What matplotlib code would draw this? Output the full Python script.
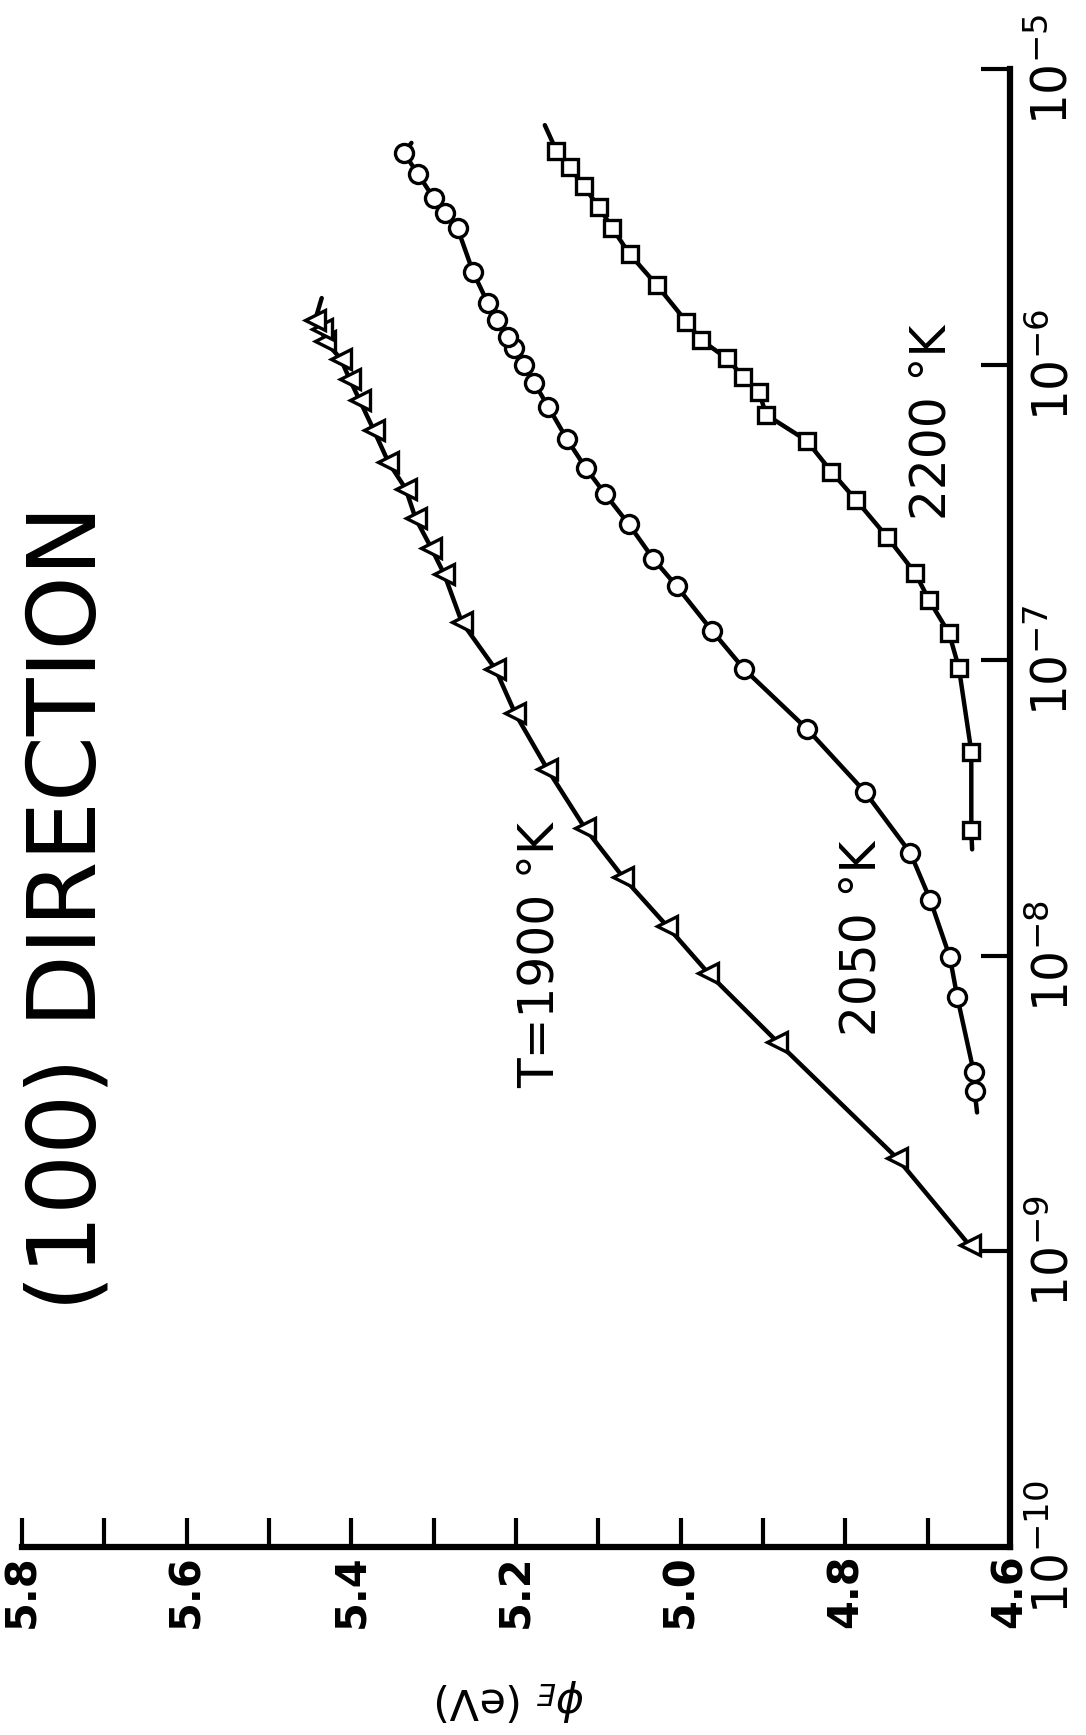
import numpy as np
import matplotlib
matplotlib.use("Agg")
import matplotlib.pyplot as plt
from matplotlib.ticker import NullLocator

# Effective work function phi_E (eV) versus oxygen pressure (log10 of torr)
# for the (100) direction at three temperatures.
phi_1900 = [4.649, 4.737, 4.883, 4.967, 5.017, 5.070, 5.116, 5.162, 5.201,
            5.225, 5.266, 5.287, 5.303, 5.322, 5.334, 5.355, 5.373, 5.390,
            5.402, 5.413, 5.432, 5.436, 5.444]
logp_1900 = [-8.98, -8.685, -8.29, -8.057, -7.898, -7.734, -7.569, -7.368,
             -7.18, -7.03, -6.87, -6.71, -6.62, -6.52, -6.42, -6.33, -6.22,
             -6.12, -6.05, -5.98, -5.92, -5.88, -5.85]

phi_2050 = [4.643, 4.644, 4.664, 4.673, 4.697, 4.721, 4.776, 4.846, 4.923,
            4.962, 5.005, 5.033, 5.063, 5.092, 5.115, 5.138, 5.161, 5.178,
            5.190, 5.202, 5.210, 5.223, 5.234, 5.252, 5.271, 5.286, 5.300,
            5.319, 5.336]
logp_2050 = [-8.457, -8.394, -8.14, -8.005, -7.81, -7.652, -7.446, -7.234,
             -7.03, -6.90, -6.749, -6.658, -6.54, -6.437, -6.351, -6.253,
             -6.142, -6.061, -6.001, -5.945, -5.908, -5.849, -5.793, -5.688,
             -5.539, -5.488, -5.437, -5.355, -5.285]

phi_2200 = [4.647, 4.647, 4.662, 4.674, 4.698, 4.715, 4.749, 4.787, 4.817,
            4.847, 4.896, 4.905, 4.924, 4.944, 4.975, 4.993, 5.029, 5.062,
            5.083, 5.099, 5.118, 5.135, 5.151]
logp_2200 = [-7.574, -7.309, -7.027, -6.909, -6.798, -6.706, -6.584, -6.458,
             -6.362, -6.257, -6.17, -6.092, -6.041, -5.979, -5.917, -5.855,
             -5.731, -5.626, -5.539, -5.468, -5.396, -5.33, -5.276]

# Ends of the drawn curves that run past the outermost measured points
curve_start_1900 = []
curve_end_1900 = [(5.436, -5.775)]
curve_start_2050 = [(4.640, -8.53)]
curve_end_2050 = [(5.327, -5.25)]
curve_start_2200 = [(4.646, -7.64)]
curve_end_2200 = [(5.165, -5.19)]

series_labels = ["T=1900 °K", "2050 °K", "2200 °K"]
title_text = "(100) DIRECTION"
phi_label = r"$\phi_E$ (eV)"

phi_ticks = [5.8, 5.7, 5.6, 5.5, 5.4, 5.3, 5.2, 5.1, 5.0, 4.9, 4.8, 4.7, 4.6]
phi_tick_labels = ["5.8", "", "5.6", "", "5.4", "", "5.2", "", "5.0", "",
                   "4.8", "", "4.6"]
logp_ticks = [-10, -9, -8, -7, -6, -5]
logp_tick_labels = [r"$10^{-10}$", r"$10^{-9}$", r"$10^{-8}$", r"$10^{-7}$",
                    r"$10^{-6}$", r"$10^{-5}$"]

plt.rcParams["font.family"] = ["DejaVu Sans"]
plt.rcParams["mathtext.fontset"] = "dejavusans"

W, H = 1086, 1735
fig = plt.figure(figsize=(W / 100, H / 100), dpi=100)
fig.patch.set_facecolor("white")

# The page is turned on its side: phi_E runs along the bottom (decreasing
# to the right) and pressure runs up the right-hand side.
x0, x1 = 22, 1010
y_top, y_bot = 69, 1547
ax = fig.add_axes([x0 / W, 1 - y_bot / H, (x1 - x0) / W, (y_bot - y_top) / H])
ax.set_xlim(5.8, 4.6)
ax.set_yscale("log")
ax.set_ylim(1e-10, 1e-5)


def curve(phi, logp, start, end):
    pts = list(start) + list(zip(phi, logp)) + list(end)
    xs = np.array([p[0] for p in pts])
    ys = 10.0 ** np.array([p[1] for p in pts])
    return xs, ys


line_kw = dict(color="black", lw=3.2, solid_capstyle="round",
               solid_joinstyle="round", zorder=2)
mark_kw = dict(linestyle="none", markerfacecolor="white",
               markeredgecolor="black", markeredgewidth=2.4, zorder=3)

for phi, logp, start, end, marker, ms in [
        (phi_1900, logp_1900, curve_start_1900, curve_end_1900, "<", 15),
        (phi_2050, logp_2050, curve_start_2050, curve_end_2050, "o", 13),
        (phi_2200, logp_2200, curve_start_2200, curve_end_2200, "s", 12)]:
    xs, ys = curve(phi, logp, start, end)
    ax.plot(xs, ys, **line_kw)
    ax.plot(phi, 10.0 ** np.array(logp), marker=marker, markersize=ms,
            **mark_kw)

for side in ("left", "top"):
    ax.spines[side].set_visible(False)
for side in ("bottom", "right"):
    ax.spines[side].set_linewidth(4.5)
    ax.spines[side].set_color("black")
    ax.spines[side].set_capstyle("projecting")

ax.set_xticks(phi_ticks)
ax.set_xticklabels(phi_tick_labels, fontweight="bold", fontsize=30)
ax.tick_params(axis="x", direction="in", length=21, width=3, pad=5,
               labelrotation=90, top=False, bottom=True)

ax.yaxis.tick_right()
ax.set_yticks([10.0 ** k for k in logp_ticks])
ax.set_yticklabels(logp_tick_labels, fontsize=35, rotation=90, va="center")
ax.yaxis.set_minor_locator(NullLocator())
ax.tick_params(axis="y", which="major", direction="in", length=21, width=3,
               pad=14, left=False, right=True)

# Curve labels, title and axis label, all turned with the page
fig.text(540 / W, 1 - 955 / H, series_labels[0], rotation=90, fontsize=35,
         ha="center", va="center")
fig.text(862 / W, 1 - 938 / H, series_labels[1], rotation=90, fontsize=35,
         ha="center", va="center")
fig.text(931 / W, 1 - 422 / H, series_labels[2], rotation=90, fontsize=35,
         ha="center", va="center")
fig.text(70 / W, 1 - 908 / H, title_text, rotation=90, fontsize=68,
         ha="center", va="center")
fig.text(510 / W, 1 - 1700 / H, phi_label, rotation=180, fontsize=31,
         ha="center", va="center")

fig.savefig("out.png", dpi=100, facecolor="white")
